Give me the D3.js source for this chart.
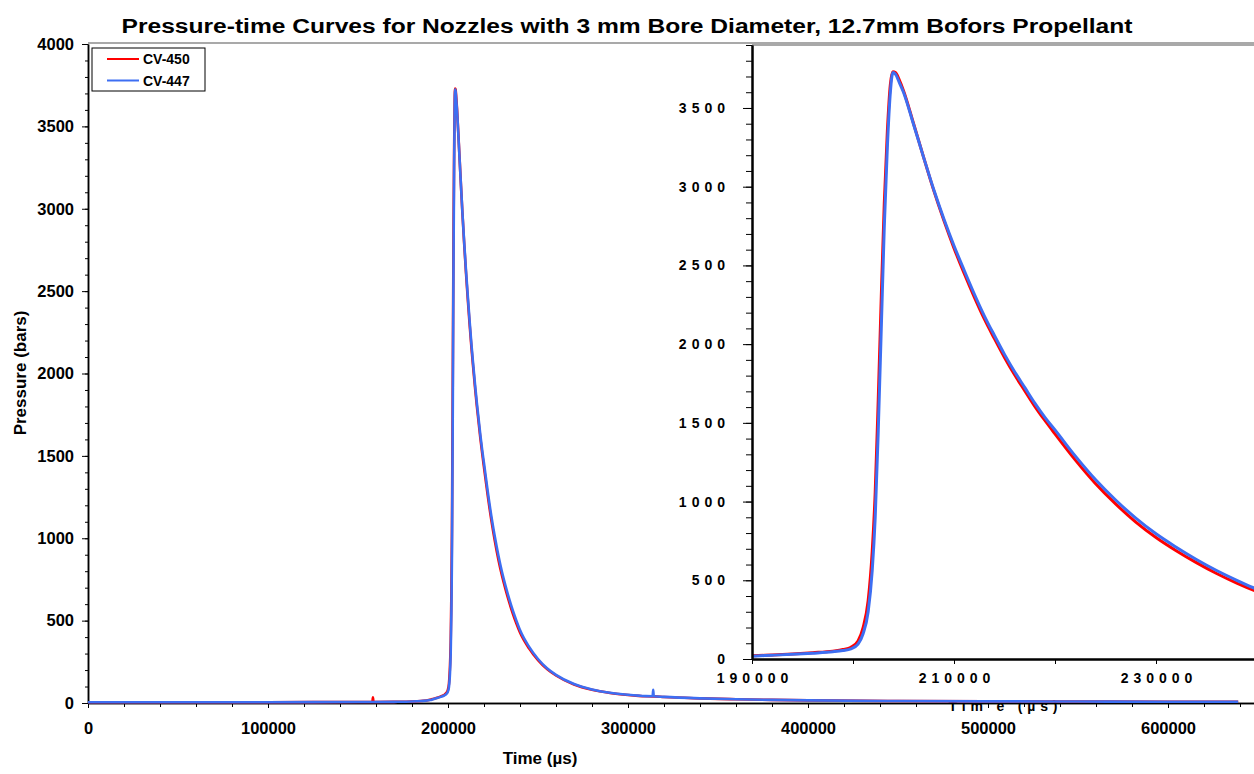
<!DOCTYPE html>
<html>
<head>
<meta charset="utf-8">
<script src="https://cdn.jsdelivr.net/npm/d3@7"></script>
<style>
  body { margin: 0; background: #fff; }
  text { font-family: "Liberation Sans", Arial, sans-serif; font-weight: bold; fill: #000; }
</style>
</head>
<body>
<svg id="chart" width="1254" height="774"></svg>
<script>

// time grid (microseconds) shared by both shots
var TIME_US = [0, 50000, 100000, 150000, 158000, 158300, 158600, 170000, 180000, 185000,
  190000, 192000, 194000, 196000, 198000, 199000, 199800, 200500, 201000, 201500,
  201900, 202200, 202500, 202800, 203100, 203400, 203700, 203950, 204200, 204600,
  205000, 206000, 207000, 208000, 209000, 210000, 211000, 212000, 213000, 214000,
  215000, 216000, 217000, 218000, 219000, 220000, 222000, 224000, 226000, 228000,
  230000, 232000, 234000, 236000, 238000, 240000, 245000, 250000, 255000, 260000,
  270000, 280000, 290000, 300000, 310000, 313700, 314000, 314300, 320000, 340000,
  360000, 380000, 400000, 450000, 500000, 550000, 600000, 639000];

var CV450 = [5, 5, 5, 6, 6, 35, 6, 7, 9, 12,
  20, 26, 32, 40, 50, 60, 75, 115, 200, 370,
  680, 1060, 1650, 2300, 2900, 3350, 3650, 3730, 3725, 3675,
  3610, 3400, 3185, 2975, 2785, 2610, 2450, 2300, 2160, 2035,
  1915, 1805, 1705, 1605, 1515, 1430, 1265, 1115, 985, 870,
  772, 688, 612, 543, 482, 428, 332, 260, 206, 167,
  112, 80, 61, 49, 41, 40, 40, 40, 36, 28,
  23, 19, 16, 12, 10, 9, 8, 8];

var CV447 = [5, 5, 5, 6, 6, 6, 6, 7, 9, 12,
  18, 24, 30, 37, 46, 54, 65, 95, 160, 300,
  560, 900, 1450, 2100, 2750, 3250, 3600, 3725, 3715, 3660,
  3600, 3395, 3185, 2980, 2795, 2625, 2470, 2320, 2180, 2055,
  1935, 1825, 1725, 1625, 1535, 1455, 1290, 1140, 1010, 895,
  795, 710, 632, 562, 500, 443, 342, 267, 211, 171,
  115, 82, 62, 50, 42, 41, 80, 41, 37, 28,
  23, 19, 16, 12, 10, 9, 8, 8];

var SERIES_NAMES = ["CV-450", "CV-447"];
var SERIES_COLORS = ["#ff0000", "#3d6ef2"];

var MAIN_X_TICKS = [0, 100000, 200000, 300000, 400000, 500000, 600000];
var MAIN_Y_TICKS = [0, 500, 1000, 1500, 2000, 2500, 3000, 3500, 4000];
var INSET_X_TICKS = [190000, 210000, 230000];
var INSET_Y_TICKS = [0, 500, 1000, 1500, 2000, 2500, 3000, 3500];

var TITLE = "Pressure-time Curves for Nozzles with 3 mm Bore Diameter, 12.7mm Bofors Propellant";

var svg = d3.select("#chart");

var mainX = d3.scaleLinear().domain([0, 650000]).range([88, 1258]);
var mainY = d3.scaleLinear().domain([0, 4000]).range([703, 44]);
var insetX = d3.scaleLinear().domain([190000, 240000]).range([752, 1257]);
var insetY = d3.scaleLinear().domain([0, 3900]).range([659, 45]);

var series = [CV450, CV447].map(function(vals, i) {
  return {
    name: SERIES_NAMES[i],
    color: SERIES_COLORS[i],
    points: TIME_US.map(function(t, j) { return [t, vals[j]]; })
  };
});


function drawTitle()
{
  svg.append("text")
     .attr("x", 627)
     .attr("y", 33)
     .attr("text-anchor", "middle")
     .attr("font-size", "20px")
     .attr("textLength", 1011)
     .attr("lengthAdjust", "spacingAndGlyphs")
     .text(TITLE);
}


function drawMainAxes()
{
  // top frame line
  svg.append("line")
     .attr("x1", 88).attr("x2", 1254)
     .attr("y1", 43).attr("y2", 43)
     .attr("stroke", "#8c8c8c").attr("stroke-width", 1.5);

  var gx = svg.append("g").attr("transform", "translate(0," + mainY(0) + ")");
  gx.call(d3.axisBottom(mainX)
            .tickValues(d3.range(0, 650001, 20000))
            .tickSize(4).tickSizeOuter(0).tickFormat(""));
  gx.append("g").call(d3.axisBottom(mainX)
            .tickValues(MAIN_X_TICKS)
            .tickSize(5).tickSizeOuter(0).tickPadding(14)
            .tickFormat(d3.format("d")));
  gx.selectAll(".domain").attr("stroke-width", 1.5);
  gx.selectAll("text").attr("font-size", "16.5px").attr("font-family", null);

  var gy = svg.append("g").attr("transform", "translate(" + mainX(0) + ",0)");
  gy.call(d3.axisLeft(mainY)
            .tickValues(d3.range(0, 4001, 100))
            .tickSize(3).tickSizeOuter(0).tickFormat(""));
  gy.append("g").call(d3.axisLeft(mainY)
            .tickValues(MAIN_Y_TICKS)
            .tickSize(6).tickSizeOuter(0).tickPadding(8)
            .tickFormat(d3.format("d")));
  gy.selectAll(".domain").attr("stroke-width", 1.5);
  gy.selectAll("text").attr("font-size", "16.5px").attr("font-family", null);

  svg.append("text")
     .attr("transform", "translate(26,373) rotate(-90)")
     .attr("text-anchor", "middle")
     .attr("font-size", "17px")
     .text("Pressure (bars)");

  svg.append("text")
     .attr("x", 540)
     .attr("y", 764)
     .attr("text-anchor", "middle")
     .attr("font-size", "17px")
     .text("Time (\u00b5s)");
}


function drawMainCurves()
{
  var line = d3.line()
               .x(function(d) { return mainX(d[0]); })
               .y(function(d) { return mainY(d[1]); })
               .curve(d3.curveMonotoneX);

  svg.append("g").selectAll("path")
     .data(series)
     .enter().append("path")
     .attr("d", function(d) { return line(d.points); })
     .attr("fill", "none")
     .attr("stroke", function(d) { return d.color; })
     .attr("stroke-width", 2.6);
}


function drawLegend()
{
  var g = svg.append("g");
  g.append("rect")
   .attr("x", 92).attr("y", 48)
   .attr("width", 113).attr("height", 43)
   .attr("fill", "#fff").attr("stroke", "#000").attr("stroke-width", 1);

  series.forEach(function(s, i) {
    var y = 59 + i * 21.5;
    g.append("line")
     .attr("x1", 107).attr("x2", 139)
     .attr("y1", y).attr("y2", y)
     .attr("stroke", s.color).attr("stroke-width", 2);
    g.append("text")
     .attr("x", 143).attr("y", y + 5)
     .attr("font-size", "14px")
     .text(s.name);
  });
}


function drawInset()
{
  var g = svg.append("g");

  g.append("rect")
   .attr("x", 752).attr("y", 45)
   .attr("width", 502).attr("height", 614)
   .attr("fill", "#fff");

  g.append("line")
   .attr("x1", 752).attr("x2", 1254)
   .attr("y1", 45).attr("y2", 45)
   .attr("stroke", "#8c8c8c").attr("stroke-width", 1.5);

  svg.append("clipPath").attr("id", "insetClip")
     .append("rect")
     .attr("x", 752).attr("y", 45)
     .attr("width", 502).attr("height", 614);

  var line = d3.line()
               .x(function(d) { return insetX(d[0]); })
               .y(function(d) { return insetY(d[1]); })
               .curve(d3.curveMonotoneX);

  g.append("g").attr("clip-path", "url(#insetClip)")
   .selectAll("path")
   .data(series)
   .enter().append("path")
   .attr("d", function(d) { return line(d.points.filter(function(p) { return p[0] >= 185000 && p[0] <= 245000; })); })
   .attr("fill", "none")
   .attr("stroke", function(d) { return d.color; })
   .attr("stroke-width", 3);

  var gx = g.append("g").attr("transform", "translate(0," + insetY(0) + ")");
  gx.call(d3.axisBottom(insetX)
            .tickValues(d3.range(190000, 240001, 10000))
            .tickSize(5).tickSizeOuter(0).tickFormat(""));
  gx.append("g").call(d3.axisBottom(insetX)
            .tickValues(INSET_X_TICKS)
            .tickSize(5).tickSizeOuter(0).tickPadding(9)
            .tickFormat(d3.format("d")));
  gx.selectAll(".domain").attr("stroke-width", 2);
  gx.selectAll("text")
    .attr("font-size", "14px").attr("font-family", null)
    .attr("letter-spacing", "5px").attr("dx", 2.5);

  var gy = g.append("g").attr("transform", "translate(" + insetX(190000) + ",0)");
  gy.call(d3.axisLeft(insetY)
            .tickValues(d3.range(0, 3901, 100))
            .tickSize(6).tickSizeOuter(0).tickFormat(""));
  gy.append("g").call(d3.axisLeft(insetY)
            .tickValues(INSET_Y_TICKS)
            .tickSize(9).tickSizeOuter(0).tickPadding(13)
            .tickFormat(d3.format("d")));
  gy.selectAll(".domain").attr("stroke-width", 2);
  gy.selectAll("text")
    .attr("font-size", "14px").attr("font-family", null)
    .attr("letter-spacing", "5px");

  g.append("text")
   .attr("x", 1003)
   .attr("y", 711)
   .attr("text-anchor", "middle")
   .attr("font-size", "14px")
   .attr("textLength", 109)
   .attr("lengthAdjust", "spacing")
   .text("Tim e (\u00b5s)");
}


drawTitle();
drawMainAxes();
drawLegend();
drawInset();
drawMainCurves();

</script>
</body>
</html>
